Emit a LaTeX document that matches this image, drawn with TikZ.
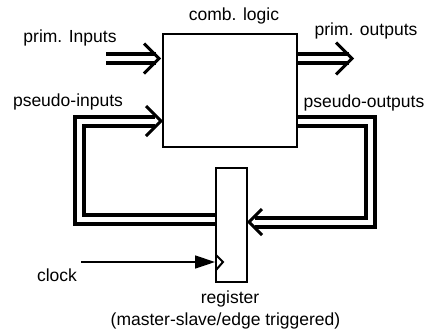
\documentclass[tikz,border=0pt]{standalone}
\usepackage{fontspec}
\setmainfont{Liberation Sans}
\usetikzlibrary{arrows.meta,calc}

\begin{document}
\begin{tikzpicture}[x=1pt,y=-1pt,
    every node/.style={font=\fontsize{17.5}{20}\selectfont},
    block/.style={draw,line width=2pt,inner sep=0pt},
    bus/.style={draw,double,line width=4pt,double distance=5pt},
    chevron/.style={draw,line width=3pt}]
    \useasboundingbox (0,0) rectangle (430,333);

    % Draw blocks
    \node[block,minimum width=134pt,minimum height=113pt] (logic) at (230,90.5) {};
    \node[block,minimum width=31pt,minimum height=114pt] (reg) at (231.5,225) {};

    % Label blocks
    \node (logiclabel) at (234,16) {comb. logic};
    \node (reglabel) at (230,299) {register};
    \node (regnote) at (225.5,321) {(master-slave/edge triggered)};

    % Primary inputs and outputs
    \coordinate (pin) at (106,58.5);
    \coordinate (pintip) at ([xshift=-3pt]logic.west |- pin);
    \coordinate (pouttip) at (352,58.5);
    \draw[bus] (pin) -- ([xshift=-3pt]pintip);
    \draw[chevron] ($(pintip)+(-15,-15)$) -- (pintip) -- ($(pintip)+(-15,15)$);
    \draw[bus] (logic.east |- pouttip) -- ([xshift=-3pt]pouttip);
    \draw[chevron] ($(pouttip)+(-16,-16)$) -- (pouttip) -- ($(pouttip)+(-16,16)$);
    \node (pinlabel) at (70,38) {prim. Inputs};
    \node (poutlabel) at (366,31) {prim. outputs};

    % Feedback through the register
    \coordinate (fbin) at (79,219);
    \coordinate (fbintip) at ([xshift=-1pt]logic.west |- 0,121);
    \coordinate (fbout) at (370.5,121);
    \coordinate (fbouttip) at ([xshift=1pt]reg.east |- 0,222);
    \draw[bus] (reg.west |- fbin) -- (fbin) |- ([xshift=-6pt]fbintip);
    \draw[chevron] ($(fbintip)+(-15,-15)$) -- (fbintip) -- ($(fbintip)+(-15,15)$);
    \draw[bus] (logic.east |- fbout) -- (fbout) |- ([xshift=6pt]fbouttip);
    \draw[chevron] ($(fbouttip)+(13,-13)$) -- (fbouttip) -- ($(fbouttip)+(13,13)$);
    \node (fbinlabel) at (68,102) {pseudo-inputs};
    \node (fboutlabel) at (364,103) {pseudo-outputs};

    % Clock
    \coordinate (clk) at (81,262);
    \draw[line width=1.5pt,-{Triangle[length=20pt,width=13pt]}] (clk) -- (reg.west |- clk);
    \draw[line width=2pt] (216,255) -- (223,262) -- (216,270);
    \node (clklabel) at (57,275) {clock};
\end{tikzpicture}
\end{document}
